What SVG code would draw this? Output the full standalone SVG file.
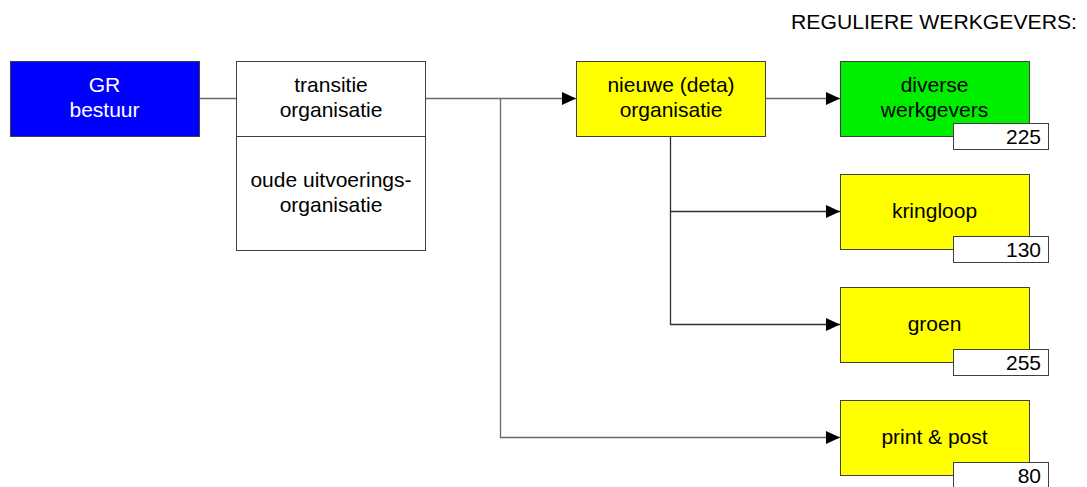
<svg xmlns="http://www.w3.org/2000/svg" width="1087" height="487" viewBox="0 0 1087 487">
  <style>
    .box { stroke: #404040; stroke-width: 1; }
    .t { font-family: "Liberation Sans", Arial, sans-serif; font-size: 21px; fill: #000; text-anchor: middle; }
    .w { fill: #fff; }
    .num { font-family: "Liberation Sans", Arial, sans-serif; font-size: 21px; fill: #000; text-anchor: end; }
    .conn { fill: none; stroke: #6a6a6a; stroke-width: 1.3; }
    .dark { stroke: #303030; }
  </style>
  <defs>
    <marker id="arrow" markerWidth="14" markerHeight="13" refX="14" refY="6.5" orient="auto" markerUnits="userSpaceOnUse">
      <path d="M0,0 L14,6.5 L0,13 Z" fill="#000"/>
    </marker>
  </defs>
  <rect width="1087" height="487" fill="#fff"/>

  <text class="t" x="934" y="29" textLength="286" lengthAdjust="spacingAndGlyphs">REGULIERE WERKGEVERS:</text>

  <!-- connectors -->
  <g id="connectors">
    <path class="conn" d="M199,98.5 H236"/>
    <path class="conn" d="M425,98.5 H576" marker-end="url(#arrow)"/>
    <path class="conn" d="M500.5,98.5 V437.5 H840" marker-end="url(#arrow)"/>
    <path class="conn" d="M765,98.5 H840" marker-end="url(#arrow)"/>
    <path class="conn dark" d="M670.5,136 V211.5 H840" marker-end="url(#arrow)"/>
    <path class="conn dark" d="M670.5,211.5 V324.5 H840" marker-end="url(#arrow)"/>
  </g>

  <g id="gr-bestuur">
    <rect class="box" x="10.5" y="61.5" width="189" height="75" fill="#0000ff"/>
    <text class="t w" x="104.5" y="92">GR</text>
    <text class="t w" x="104.5" y="117">bestuur</text>
  </g>

  <g id="transitie">
    <rect class="box" x="236.5" y="61.5" width="189" height="189" fill="#fff"/>
    <line class="box" x1="236.5" y1="136.5" x2="425.5" y2="136.5"/>
    <text class="t" x="331" y="92">transitie</text>
    <text class="t" x="331" y="117">organisatie</text>
    <text class="t" x="331" y="187">oude uitvoerings-</text>
    <text class="t" x="331" y="212">organisatie</text>
  </g>

  <g id="nieuwe">
    <rect class="box" x="576.5" y="61.5" width="189" height="75" fill="#ffff00"/>
    <text class="t" x="671" y="92">nieuwe (deta)</text>
    <text class="t" x="671" y="117">organisatie</text>
  </g>

  <g id="diverse">
    <rect class="box" x="840.5" y="61.5" width="189" height="75" fill="#00ee00"/>
    <text class="t" x="934.5" y="92">diverse</text>
    <text class="t" x="934.5" y="117">werkgevers</text>
    <rect class="box" x="953.5" y="123.5" width="95" height="26" fill="#fff"/>
    <text class="num" x="1041" y="144">225</text>
  </g>

  <g id="kringloop">
    <rect class="box" x="840.5" y="174.5" width="189" height="75" fill="#ffff00"/>
    <text class="t" x="934.5" y="218">kringloop</text>
    <rect class="box" x="953.5" y="236.5" width="95" height="26" fill="#fff"/>
    <text class="num" x="1041" y="257">130</text>
  </g>

  <g id="groen">
    <rect class="box" x="840.5" y="287.5" width="189" height="75" fill="#ffff00"/>
    <text class="t" x="934.5" y="331">groen</text>
    <rect class="box" x="953.5" y="349.5" width="95" height="26" fill="#fff"/>
    <text class="num" x="1041" y="370">255</text>
  </g>

  <g id="print-post">
    <rect class="box" x="840.5" y="400.5" width="189" height="75" fill="#ffff00"/>
    <text class="t" x="934.5" y="444">print &amp; post</text>
    <rect class="box" x="953.5" y="462.5" width="95" height="26" fill="#fff"/>
    <text class="num" x="1041" y="483">80</text>
  </g>
</svg>
